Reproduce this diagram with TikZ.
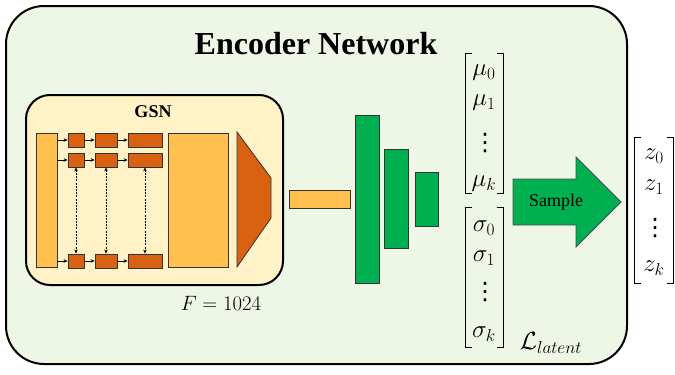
\documentclass[tikz,border=0pt]{standalone}
\usepackage{fontspec}
\setmainfont{Liberation Serif}
\newfontfamily\dotsfont{DejaVu Sans}
\usetikzlibrary{arrows.meta}
\definecolor{encbg}{RGB}{238,246,230}
\definecolor{gsnbg}{RGB}{255,242,198}
\definecolor{lightorange}{RGB}{255,192,80}
\definecolor{darkorange}{RGB}{216,98,18}
\definecolor{layergreen}{RGB}{0,176,80}
\newcommand{\colvdots}{{\dotsfont\fontsize{24}{28}\selectfont ⋮}}
\begin{document}
\begin{tikzpicture}[x=1pt,y=-1pt,
  block/.style={draw=black!80,line width=0.8pt,inner sep=0pt},
  pale/.style={block,fill=lightorange},
  unit/.style={block,fill=darkorange,minimum height=14},
  dense/.style={draw=black!80,line width=1pt,inner sep=0pt,fill=layergreen,minimum width=24},
  flow/.style={-{Stealth[length=4pt,width=3.5pt]},line width=0.6pt},
  link/.style={{Stealth[length=4pt,width=3.5pt]}-{Stealth[length=4pt,width=3.5pt]},dashed,line width=0.6pt,dash pattern=on 2pt off 1.2pt},
  vec/.style={inner sep=0pt,minimum width=37},
  entry/.style={font=\fontsize{24}{29}\selectfont,inner sep=0pt},
  bracket/.style={line width=1.1pt}]
\useasboundingbox (0,0) rectangle (675,375);

% encoder frame
\draw[line width=2pt,fill=encbg,rounded corners=38] (6,6) rectangle (627,364);
\node (title) at (316,44) {\fontsize{32}{38}\selectfont\bfseries Encoder Network};

% GSN block
\draw[line width=2pt,fill=gsnbg,rounded corners=24] (26,95) rectangle (283,285);
\node (gsn) at (153,112) {\fontsize{18}{22}\selectfont\bfseries GSN};
\node[pale,minimum width=21,minimum height=134] (inbar) at (46.5,200) {};
\foreach \r/\y in {a/140,b/160,c/261}{
  \node[unit,minimum width=16] (u1\r) at (76,\y) {};
  \node[unit,minimum width=22] (u2\r) at (106,\y) {};
  \node[unit,minimum width=34] (u3\r) at (145,\y) {};
  \draw[flow] (inbar.east |- u1\r.west) -- (u1\r.west);
  \draw[flow] (u1\r) -- (u2\r);
  \draw[flow] (u2\r) -- (u3\r);
}
\draw[link] (u1b.south) -- (u1c.north);
\draw[link] (u2b.south) -- (u2c.north);
\draw[link] (u3b.south) -- (u3c.north);
\node[pale,minimum width=60,minimum height=134] (pool) at (198,200) {};
\draw[block,fill=darkorange] (237,132) -- (271,178) -- (271,218) -- (237,267) -- cycle;
\node (fdim) at (221,303) {\fontsize{22}{26}\selectfont$F = 1024$};

% feature and dense layers
\node[pale,minimum width=61,minimum height=18] (feat) at (319.5,199) {};
\node[dense,minimum height=168] (d1) at (367,199) {};
\node[dense,minimum height=99] (d2) at (396,198.5) {};
\node[dense,minimum width=23,minimum height=54] (d3) at (426.5,199) {};

% mean vector
\node[vec,minimum height=139] (mu) at (484.5,123.5) {};
\draw[bracket] (mu.north west) ++(6,0) -- (mu.north west) -- (mu.south west) -- ++(6,0);
\draw[bracket] (mu.north east) ++(-6,0) -- (mu.north east) -- (mu.south east) -- ++(-6,0);
\node[entry] (mu0) at (484,73) {$\mu_0$};
\node[entry] (mu1) at (484,103) {$\mu_1$};
\node[inner sep=0pt] (mud) at (485,143) {\colvdots};
\node[entry] (muk) at (484,184) {$\mu_k$};

% deviation vector
\node[vec,minimum height=139] (sg) at (484.5,277.5) {};
\draw[bracket] (sg.north west) ++(6,0) -- (sg.north west) -- (sg.south west) -- ++(6,0);
\draw[bracket] (sg.north east) ++(-6,0) -- (sg.north east) -- (sg.south east) -- ++(-6,0);
\node[entry] (sg0) at (484,228) {$\sigma_0$};
\node[entry] (sg1) at (484,258) {$\sigma_1$};
\node[inner sep=0pt] (sgd) at (485,292) {\colvdots};
\node[entry] (sgk) at (484,334) {$\sigma_k$};
\node[entry] (loss) at (551,343) {$\mathcal{L}_{latent}$};

% sampling arrow
\draw[draw=black!70,line width=0.8pt,fill=layergreen]
  (513,179) -- (576,179) -- (576,157) -- (621,202) -- (576,247) -- (576,225) -- (513,225) -- cycle;
\node (sample) at (556,202) {\fontsize{18}{22}\selectfont Sample};

% latent vector
\node[vec,minimum width=38,minimum height=145] (z) at (654,210.5) {};
\draw[bracket] (z.north west) ++(6,0) -- (z.north west) -- (z.south west) -- ++(6,0);
\draw[bracket] (z.north east) ++(-6,0) -- (z.north east) -- (z.south east) -- ++(-6,0);
\node[entry] (z0) at (654,156) {$z_0$};
\node[entry] (z1) at (654,187) {$z_1$};
\node[inner sep=0pt] (zd) at (655,228) {\colvdots};
\node[entry] (zk) at (654,268) {$z_k$};
\end{tikzpicture}
\end{document}
